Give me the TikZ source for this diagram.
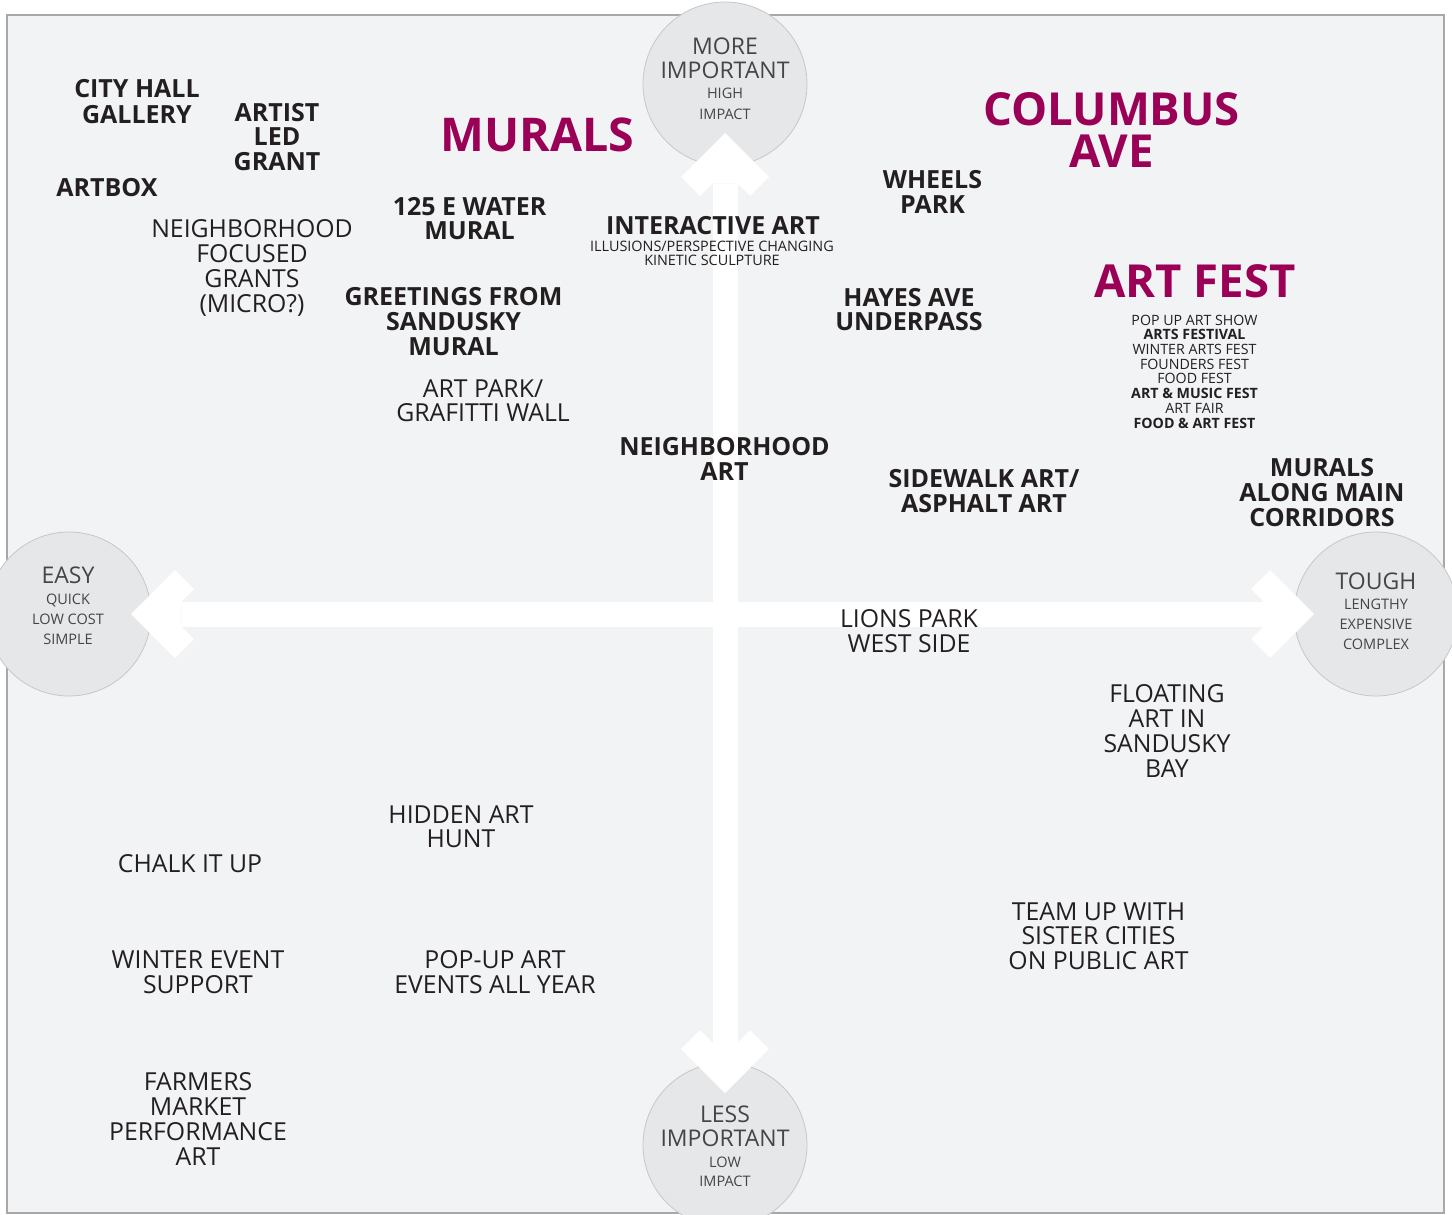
\documentclass[tikz,border=0pt]{standalone}
\usepackage{fontspec}
\setmainfont{Open Sans}
\definecolor{bgc}{HTML}{F2F3F5}
\definecolor{framec}{HTML}{A8A8A8}
\definecolor{circfill}{HTML}{E6E7E9}
\definecolor{circline}{HTML}{C6C7C9}
\definecolor{txt}{HTML}{231F20}
\definecolor{ctxt}{HTML}{454545}
\definecolor{mag}{HTML}{990056}
\tikzset{
  lbl/.style={inner sep=0pt, anchor=base, align=center, text=txt},
  boldlbl/.style={lbl, font=\fontsize{25}{25}\selectfont\bfseries},
  reglbl/.style={lbl, font=\fontsize{24.8}{25}\selectfont},
  biglbl/.style={lbl, text=mag, font=\fontsize{45.5}{42}\selectfont\bfseries},
  smalllbl/.style={lbl, font=\fontsize{14.2}{14.7}\selectfont},
  circbig/.style={inner sep=0pt, anchor=base, text=ctxt, font=\fontsize{23}{23}\selectfont},
  circsmall/.style={inner sep=0pt, anchor=base, text=ctxt, font=\fontsize{14.5}{20}\selectfont},
  endcircle/.style={circle, fill=circfill, draw=circline, line width=0.8pt, minimum size=164pt, inner sep=0pt},
  arrowfill/.style={fill=white, draw=none}
}
\begin{document}
\begin{tikzpicture}[x=1pt, y=-1pt]
\useasboundingbox (0,0) rectangle (1452,1215);
\clip (0,0) rectangle (1452,1215);
\fill[white] (0,0) rectangle (1452,1215);
% frame
\draw[framec, fill=bgc, line width=1.6pt] (7,15) rectangle (1444,1213);
% end circles
\node[endcircle] (ctop) at (725,84) {};
\node[endcircle] (cleft) at (69,614) {};
\node[endcircle] (cright) at (1376,614) {};
\node[endcircle] (cbot) at (725,1145) {};
% arrows (white cross)
\fill[arrowfill] (712.5,183.5) rectangle (737.5,1042.5);
\fill[arrowfill] (181.5,601.5) rectangle (1263.5,626.5);
\fill[arrowfill] (725,133) -- (769,177) -- (750,196) -- (737.5,183.5) -- (712.5,183.5) -- (700,196) -- (681,177) -- cycle;
\fill[arrowfill] (725,1093) -- (769,1049) -- (750,1030) -- (737.5,1042.5) -- (712.5,1042.5) -- (700,1030) -- (681,1049) -- cycle;
\fill[arrowfill] (131,614) -- (175,570) -- (194,589) -- (181.5,601.5) -- (181.5,626.5) -- (194,639) -- (175,658) -- cycle;
\fill[arrowfill] (1314,614) -- (1270,570) -- (1251,589) -- (1263.5,601.5) -- (1263.5,626.5) -- (1251,639) -- (1270,658) -- cycle;
% circle texts
\node[circbig] (t1) at (725,55) {MORE};
\node[circbig] (t2) at (725,78) {IMPORTANT};
\node[circsmall] (t3) at (725,99) {HIGH};
\node[circsmall] (t4) at (725,119) {IMPACT};
\node[circbig] (l1) at (68,583) {EASY};
\node[circsmall] (l2) at (68,604) {QUICK};
\node[circsmall] (l3) at (68,624) {LOW COST};
\node[circsmall] (l4) at (68,644) {SIMPLE};
\node[circbig] (r1) at (1376,589) {TOUGH};
\node[circsmall] (r2) at (1376,609) {LENGTHY};
\node[circsmall] (r3) at (1376,629) {EXPENSIVE};
\node[circsmall] (r4) at (1376,649) {COMPLEX};
\node[circbig] (b1) at (725,1122) {LESS};
\node[circbig] (b2) at (725,1146) {IMPORTANT};
\node[circsmall] (b3) at (725,1167) {LOW};
\node[circsmall] (b4) at (725,1186) {IMPACT};
% big magenta labels (base = last line)
\node[biglbl, font=\fontsize{46.5}{42}\selectfont\bfseries] (murals) at (537.5,151) {MURALS};
\node[biglbl] (columbus) at (1111.5,167) {COLUMBUS\\AVE};
\node[biglbl] (artfest) at (1195,297) {ART FEST};
% bold labels
\node[boldlbl] (cityhall) at (137,123) {CITY HALL\\GALLERY};
\node[boldlbl, font=\fontsize{25}{24.5}\selectfont\bfseries] (artistled) at (277,170) {ARTIST\\LED\\GRANT};
\node[boldlbl] (artbox) at (107,196) {ARTBOX};
\node[boldlbl, font=\fontsize{25}{24}\selectfont\bfseries] (water) at (469.5,239) {125 E WATER\\MURAL};
\node[boldlbl] (greetings) at (453.5,355) {GREETINGS FROM\\SANDUSKY\\MURAL};
\node[boldlbl] (interactive) at (713,234) {INTERACTIVE ART};
\node[boldlbl] (wheels) at (932.5,213) {WHEELS\\PARK};
\node[boldlbl, font=\fontsize{25}{23.5}\selectfont\bfseries] (hayes) at (909,330) {HAYES AVE\\UNDERPASS};
\node[boldlbl] (nbhart) at (724.5,480) {NEIGHBORHOOD\\ART};
\node[boldlbl] (sidewalk) at (984,512) {SIDEWALK ART/\\ASPHALT ART};
\node[boldlbl] (corridors) at (1322,526) {MURALS\\ALONG MAIN\\CORRIDORS};
% regular labels
\node[reglbl] (grants) at (252,312) {NEIGHBORHOOD\\FOCUSED\\GRANTS\\(MICRO?)};
\node[reglbl, font=\fontsize{24.8}{23.5}\selectfont] (artpark) at (483,421) {ART PARK/\\GRAFITTI WALL};
\node[reglbl] (lions) at (909,652) {LIONS PARK\\WEST SIDE};
\node[reglbl] (floating) at (1167,777) {FLOATING\\ART IN\\SANDUSKY\\BAY};
\node[reglbl, font=\fontsize{24.8}{24}\selectfont] (hidden) at (461,847) {HIDDEN ART\\HUNT};
\node[reglbl] (chalk) at (190,872) {CHALK IT UP};
\node[reglbl] (winter) at (198,993) {WINTER EVENT\\SUPPORT};
\node[reglbl] (popup) at (495,993) {POP-UP ART\\EVENTS ALL YEAR};
\node[reglbl, font=\fontsize{24.8}{24.5}\selectfont] (teamup) at (1098.5,969) {TEAM UP WITH\\SISTER CITIES\\ON PUBLIC ART};
\node[reglbl] (farmers) at (198,1165) {FARMERS\\MARKET\\PERFORMANCE\\ART};
% small labels
\node[smalllbl, font=\fontsize{14.4}{14}\selectfont] (illusions) at (712,265) {ILLUSIONS/PERSPECTIVE CHANGING\\KINETIC SCULPTURE};
\node[smalllbl] (festlist) at (1194.5,428) {POP UP ART SHOW\\\textbf{ARTS FESTIVAL}\\WINTER ARTS FEST\\FOUNDERS FEST\\FOOD FEST\\\textbf{ART \& MUSIC FEST}\\ART FAIR\\\textbf{FOOD \& ART FEST}};
\end{tikzpicture}
\end{document}
